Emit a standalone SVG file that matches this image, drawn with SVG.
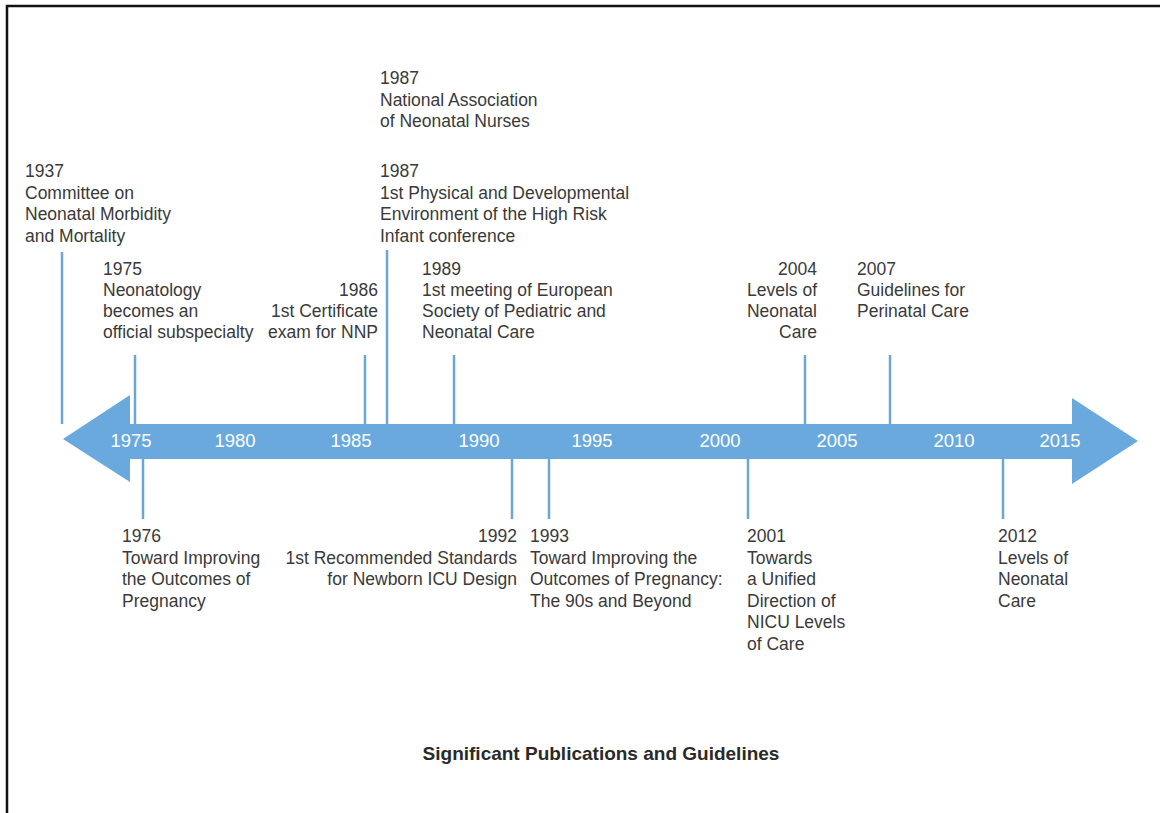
<svg xmlns="http://www.w3.org/2000/svg" width="1160" height="813" viewBox="0 0 1160 813">
<style>
.t{font-family:"Liberation Sans",Arial,sans-serif;font-size:17.5px;fill:#3a3a3a}
.r{text-anchor:end}
.y{font-family:"Liberation Sans",Arial,sans-serif;font-size:18.5px;fill:#ffffff;text-anchor:middle}
.ttl{font-family:"Liberation Sans",Arial,sans-serif;font-size:19px;font-weight:bold;fill:#2a2a2a;text-anchor:middle}
.tick{stroke:#6aa6d8;stroke-width:2.5;fill:none}
</style>
<rect x="0" y="0" width="1160" height="813" fill="#ffffff"/>
<path d="M7,820 L7,6 L1170,6" fill="none" stroke="#111111" stroke-width="2.5"/>
<g id="connectors">
<line class="tick" x1="62" y1="252" x2="62" y2="424"/>
<line class="tick" x1="135" y1="355" x2="135" y2="424"/>
<line class="tick" x1="143" y1="459" x2="143" y2="519"/>
<line class="tick" x1="365" y1="355" x2="365" y2="424"/>
<line class="tick" x1="387" y1="250" x2="387" y2="424"/>
<line class="tick" x1="454" y1="355" x2="454" y2="424"/>
<line class="tick" x1="512" y1="459" x2="512" y2="519"/>
<line class="tick" x1="549" y1="459" x2="549" y2="519"/>
<line class="tick" x1="748" y1="459" x2="748" y2="519"/>
<line class="tick" x1="805" y1="355" x2="805" y2="424"/>
<line class="tick" x1="890" y1="355" x2="890" y2="424"/>
<line class="tick" x1="1003" y1="459" x2="1003" y2="519"/>
</g>
<g id="timeline-arrow">
<polygon points="63,439 130,395 130,424 1072,424 1072,398 1138,441 1072,484 1072,459 130,459 130,482" fill="#69a9de"/>
<text class="y" x="131" y="447">1975</text>
<text class="y" x="235" y="447">1980</text>
<text class="y" x="351" y="447">1985</text>
<text class="y" x="479" y="447">1990</text>
<text class="y" x="592" y="447">1995</text>
<text class="y" x="720" y="447">2000</text>
<text class="y" x="837" y="447">2005</text>
<text class="y" x="954" y="447">2010</text>
<text class="y" x="1060" y="447">2015</text>
</g>
<g id="n1937"><text class="t" x="25" y="177">1937<tspan x="25" dy="21.5">Committee on</tspan><tspan x="25" dy="21.5">Neonatal Morbidity</tspan><tspan x="25" dy="21.5">and Mortality</tspan></text></g>
<g id="n1975"><text class="t" x="103" y="275">1975<tspan x="103" dy="21">Neonatology</tspan><tspan x="103" dy="21">becomes an</tspan><tspan x="103" dy="21">official subspecialty</tspan></text></g>
<g id="n1986"><text class="t r" x="378" y="296">1986<tspan x="378" dy="21">1st Certificate</tspan><tspan x="378" dy="21">exam for NNP</tspan></text></g>
<g id="n1987a"><text class="t" x="380" y="84">1987<tspan x="380" dy="21.5">National Association</tspan><tspan x="380" dy="21.5">of Neonatal Nurses</tspan></text></g>
<g id="n1987b"><text class="t" x="380" y="177">1987<tspan x="380" dy="21.5">1st Physical and Developmental</tspan><tspan x="380" dy="21.5">Environment of the High Risk</tspan><tspan x="380" dy="21.5">Infant conference</tspan></text></g>
<g id="n1989"><text class="t" x="422" y="275">1989<tspan x="422" dy="21">1st meeting of European</tspan><tspan x="422" dy="21">Society of Pediatric and</tspan><tspan x="422" dy="21">Neonatal Care</tspan></text></g>
<g id="n2004"><text class="t r" x="817" y="275">2004<tspan x="817" dy="21">Levels of</tspan><tspan x="817" dy="21">Neonatal</tspan><tspan x="817" dy="21">Care</tspan></text></g>
<g id="n2007"><text class="t" x="857" y="275">2007<tspan x="857" dy="21">Guidelines for</tspan><tspan x="857" dy="21">Perinatal Care</tspan></text></g>
<g id="n1976"><text class="t" x="122" y="542">1976<tspan x="122" dy="21.5">Toward Improving</tspan><tspan x="122" dy="21.5">the Outcomes of</tspan><tspan x="122" dy="21.5">Pregnancy</tspan></text></g>
<g id="n1992"><text class="t r" x="517" y="542">1992<tspan x="517" dy="21.5">1st Recommended Standards</tspan><tspan x="517" dy="21.5">for Newborn ICU Design</tspan></text></g>
<g id="n1993"><text class="t" x="530" y="542">1993<tspan x="530" dy="21.5">Toward Improving the</tspan><tspan x="530" dy="21.5">Outcomes of Pregnancy:</tspan><tspan x="530" dy="21.5">The 90s and Beyond</tspan></text></g>
<g id="n2001"><text class="t" x="747" y="542">2001<tspan x="747" dy="21.5">Towards</tspan><tspan x="747" dy="21.5">a Unified</tspan><tspan x="747" dy="21.5">Direction of</tspan><tspan x="747" dy="21.5">NICU Levels</tspan><tspan x="747" dy="21.5">of Care</tspan></text></g>
<g id="n2012"><text class="t" x="998" y="542">2012<tspan x="998" dy="21.5">Levels of</tspan><tspan x="998" dy="21.5">Neonatal</tspan><tspan x="998" dy="21.5">Care</tspan></text></g>
<g id="title"><text class="ttl" x="601" y="760">Significant Publications and Guidelines</text></g>
</svg>
